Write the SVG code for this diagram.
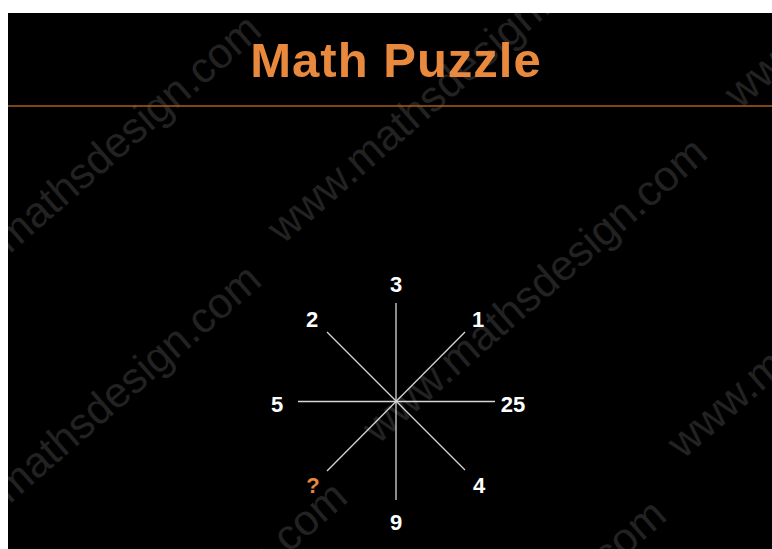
<svg xmlns="http://www.w3.org/2000/svg" width="772" height="549" viewBox="0 0 772 549">
  <style>
    .wm { font-family: "Liberation Sans", Arial, sans-serif; font-size: 43px; fill: #222222; }
    .num { font-family: "Liberation Sans", Arial, sans-serif; font-size: 22px; font-weight: bold; fill: #ffffff; text-anchor: middle; }
    .q { fill: #E8893E; }
    .spoke { stroke: #d6d6d6; stroke-width: 1.3; fill: none; }
  </style>
  <defs>
    <clipPath id="panel"><rect x="8" y="13" width="764" height="536"/></clipPath>
  </defs>
  <rect x="0" y="0" width="772" height="549" fill="#ffffff"/>
  <rect x="8" y="13" width="764" height="536" fill="#000000"/>
  <g id="watermarks" clip-path="url(#panel)">
    <text class="wm" transform="translate(-68,322) rotate(-41)">www.mathsdesign.com</text>
    <text class="wm" transform="translate(-68,572) rotate(-41)">www.mathsdesign.com</text>
    <text class="wm" transform="translate(283,245) rotate(-41)">www.mathsdesign.com</text>
    <text class="wm" transform="translate(378,445) rotate(-41)">www.mathsdesign.com</text>
    <text class="wm" transform="translate(683,460) rotate(-41)">www.mathsdesign.com</text>
    <text class="wm" transform="translate(740,110) rotate(-41)">www.mathsdesign.com</text>
    <text class="wm" transform="translate(337,807) rotate(-41)">www.mathsdesign.com</text>
    <text class="wm" transform="translate(18,789) rotate(-41)">www.mathsdesign.com</text>
  </g>
  <g id="title">
    <text x="396" y="77" font-family="Liberation Sans, Arial, sans-serif" font-size="49" font-weight="bold" letter-spacing="1" fill="#E8893E" text-anchor="middle">Math Puzzle</text>
  </g>
  <line x1="8" y1="106" x2="772" y2="106" stroke="#A85D1E" stroke-width="1.5"/>
  <g id="connectors">
    <line class="spoke" x1="396" y1="303" x2="396" y2="500"/>
    <line class="spoke" x1="298" y1="401.5" x2="495" y2="401.5"/>
    <line class="spoke" x1="327" y1="332" x2="465" y2="470"/>
    <line class="spoke" x1="465" y1="332" x2="327" y2="471"/>
  </g>
  <g id="n3"><text class="num" x="396" y="292">3</text></g>
  <g id="n2"><text class="num" x="312" y="327">2</text></g>
  <g id="n1"><text class="num" x="478" y="327">1</text></g>
  <g id="n5"><text class="num" x="277" y="412">5</text></g>
  <g id="n25"><text class="num" x="513" y="412">25</text></g>
  <g id="nq"><text class="num q" x="313" y="493">?</text></g>
  <g id="n4"><text class="num" x="479" y="493">4</text></g>
  <g id="n9"><text class="num" x="396" y="530">9</text></g>
</svg>
